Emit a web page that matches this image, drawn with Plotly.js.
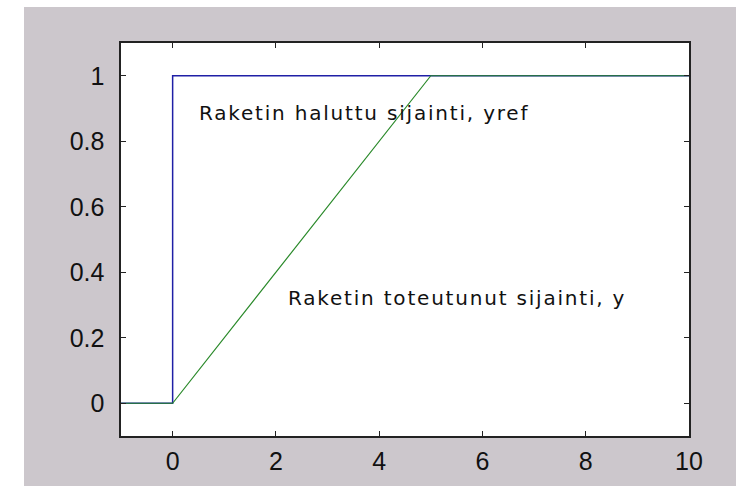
<!DOCTYPE html>
<html>
<head>
<meta charset="utf-8">
<script src="https://cdn.plot.ly/plotly-3.0.1.min.js"></script>
<style>
  html, body { margin: 0; padding: 0; background: #ffffff; }
  #frame { position: absolute; left: 24px; top: 7px; width: 712px; height: 479px; background: #ccc7cc; }
  #chart { position: absolute; left: 0; top: 0; width: 736px; height: 486px; }
  #chart .annotation-text { letter-spacing: 1.8px; }
</style>
</head>
<body>
<div id="frame"></div>
<div id="chart"></div>
<script>
// Desired rocket position (step) and the realised position (ramp)
const refTime = [-1, 0, 0, 10];
const refPos  = [0, 0, 1, 1];
const outTime = [-1, 0, 5, 10];
const outPos  = [0, 0, 1, 1];

const xTicks = [0, 2, 4, 6, 8, 10];
const yTicks = [0, 0.2, 0.4, 0.6, 0.8, 1];

const labelRef = 'Raketin haluttu sijainti, yref';
const labelOut = 'Raketin toteutunut sijainti, y';

const traces = [
  { x: refTime, y: refPos, mode: 'lines', line: { color: '#1f1fa6', width: 1.5 }, hoverinfo: 'skip' },
  { x: outTime, y: outPos, mode: 'lines', line: { color: '#2b8a2b', width: 1.2 }, hoverinfo: 'skip' }
];

const tickFont = { family: 'Liberation Sans, Arial, sans-serif', size: 25, color: '#111111' };
const textFont = { family: 'DejaVu Sans, Verdana, sans-serif', size: 20, color: '#111111' };

const axisCommon = {
  showgrid: false, zeroline: false, showline: true, mirror: 'ticks',
  linecolor: '#222222', linewidth: 1.6,
  ticks: 'inside', ticklen: 5, tickwidth: 1, tickcolor: '#222222',
  tickfont: tickFont
};

const layout = {
  width: 736, height: 486,
  margin: { l: 121, r: 47, t: 43, b: 50 },
  paper_bgcolor: 'rgba(0,0,0,0)',
  plot_bgcolor: '#ffffff',
  showlegend: false,
  xaxis: Object.assign({}, axisCommon, {
    range: [-1, 10], tickvals: xTicks, ticktext: xTicks.map(String), ticklabelstandoff: 2
  }),
  yaxis: Object.assign({}, axisCommon, {
    range: [-0.1, 1.1], tickvals: yTicks, ticktext: yTicks.map(String), ticklabelstandoff: 10
  }),
  annotations: [
    { x: 1.0, y: 0.885, xref: 'x', yref: 'y', text: labelRef, showarrow: false,
      xanchor: 'left', yanchor: 'middle', font: textFont },
    { x: 2.72, y: 0.32, xref: 'x', yref: 'y', text: labelOut, showarrow: false,
      xanchor: 'left', yanchor: 'middle', font: textFont }
  ]
};

Plotly.newPlot('chart', traces, layout, { staticPlot: true, displayModeBar: false });
</script>
</body>
</html>
